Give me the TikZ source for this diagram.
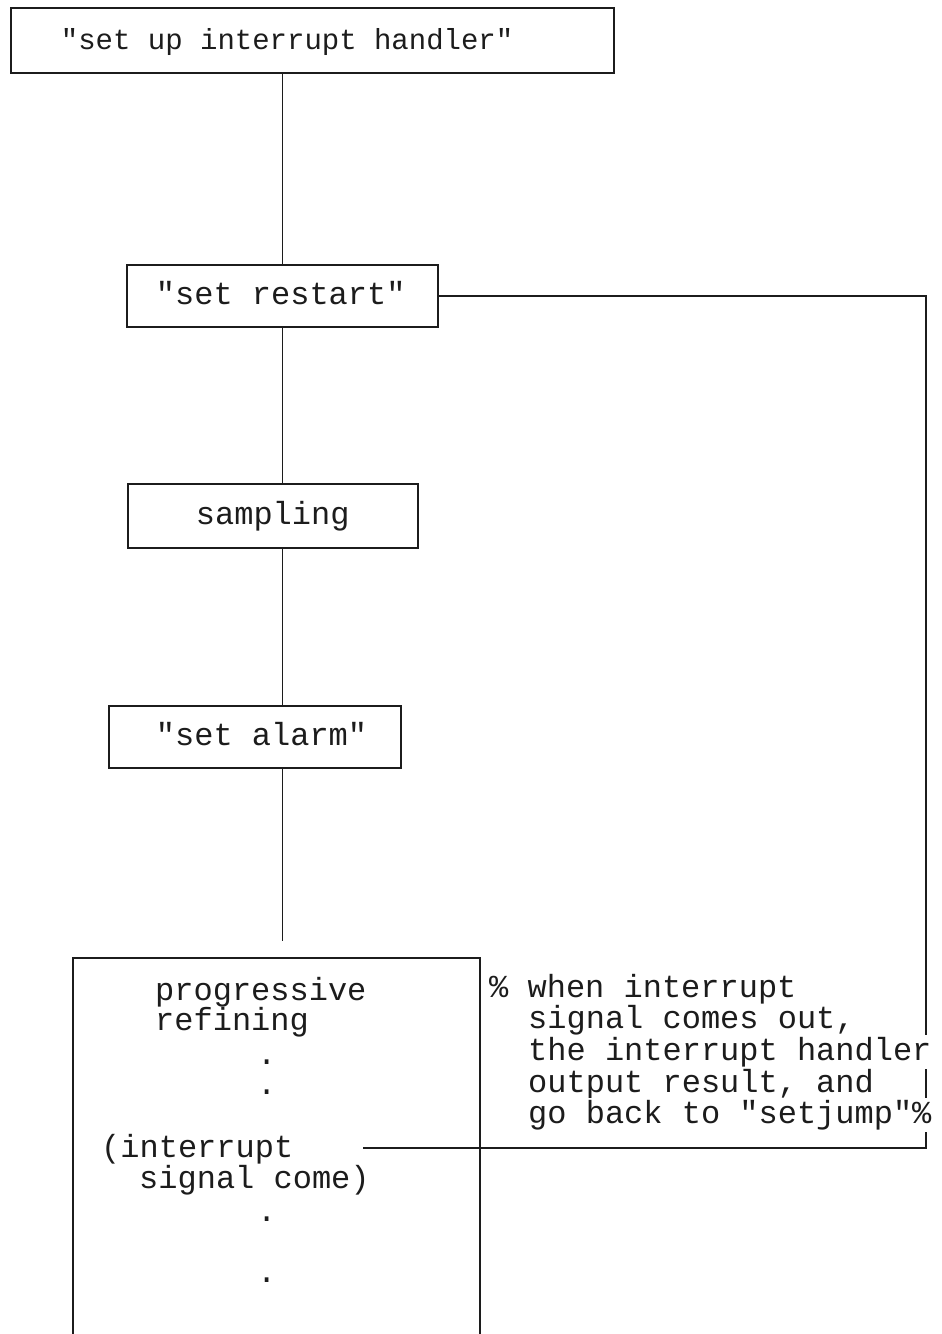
\documentclass[tikz,border=0pt]{standalone}
\usepackage{fontspec}
\setmonofont{Liberation Mono}
\definecolor{ink}{RGB}{28,28,28}
\begin{document}
\begin{tikzpicture}[x=1pt,y=-1pt,
  mono/.style={font=\ttfamily\fontsize{32}{38}\selectfont, text=ink},
  box/.style={mono, draw=ink, line width=1.8pt, rectangle, anchor=north west,
    inner xsep=6pt, inner ysep=0pt, align=left, text height=22pt, text depth=4pt},
  % full-width monospaced spaces and a left indent inside a box
  pad/.style={execute at begin node={\spaceskip=\fontdimen2\font\relax\hspace*{#1}}},
  conn/.style={draw=ink, line width=1.6pt},
  txt/.style={mono, anchor=base west, inner xsep=0pt, inner ysep=2pt},
]
\useasboundingbox (0,0) rectangle (942,1334);
\clip (0,0) rectangle (942,1334);

% main chain of steps
\node[box, text width=591pt, minimum height=65pt, pad=44pt,
      font=\ttfamily\fontsize{29}{35}\selectfont] (b1) at (10,7) {"set up interrupt handler"};
\node[box, text width=299pt, minimum height=62pt, pad=23pt] (b2) at (126,264) {"set restart"};
\node[box, text width=278pt, minimum height=64pt, pad=62pt] (b3) at (127,483) {sampling};
\node[box, text width=280pt, minimum height=62pt, pad=41pt] (b4) at (108,705) {"set alarm"};

% open-bottom box of the refining loop
\node[draw=ink, line width=1.8pt, rectangle, anchor=north west,
      minimum width=407pt, minimum height=420pt, inner sep=0pt] (b5) at (72,957) {};

\coordinate (corner) at (926,1148);
\coordinate (ret) at (363,1148);

% connectors
\draw[conn] (b1.south -| b2.north) -- (b2.north);
\draw[conn] (b2.south) -- (b2.south |- b3.north);
\draw[conn] (b2.south |- b3.south) -- (b2.south |- b4.north);
\draw[conn] (b2.south |- b4.south) -- ++(0,172) coordinate (stub);
\draw[conn] (b2.east) -| (corner) -- (ret);

% text inside the refining box
\node[txt] (p1) at (155,1000) {progressive};
\node[txt] (p2) at (155,1030) {refining};
\node[txt] (d1) at (257,1064) {.};
\node[txt] (d2) at (257,1094) {.};
\node[txt] (i1) at (101,1157) {(interrupt};
\node[txt] (i2) at (139,1188) {signal come)};
\node[txt] (d3) at (257,1221) {.};
\node[txt] (d4) at (257,1282) {.};

% comment beside the loop
\node[txt] (c1) at (489,997) {\% when interrupt};
\node[txt] (c2) at (528,1028) {signal comes out,};
\node[txt, fill=white] (c3) at (528,1060) {the interrupt handler};
\node[txt] (c4) at (528,1092) {output result, and};
\node[txt, fill=white] (c5) at (528,1123) {go back to "setjump"\%};
\end{tikzpicture}
\end{document}
